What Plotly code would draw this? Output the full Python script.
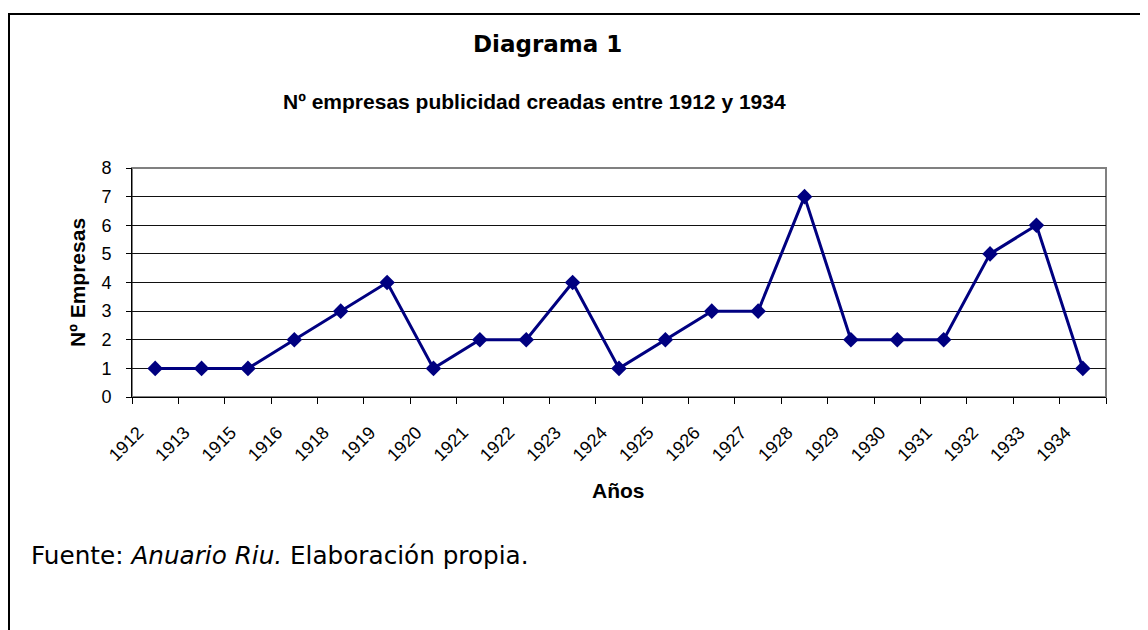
import plotly.graph_objects as go

years = ["1912", "1913", "1915", "1916", "1918", "1919", "1920", "1921", "1922", "1923",
         "1924", "1925", "1926", "1927", "1928", "1929", "1930", "1931", "1932", "1933", "1934"]
empresas = [1, 1, 1, 2, 3, 4, 1, 2, 2, 4, 1, 2, 3, 3, 7, 2, 2, 2, 5, 6, 1]
y_ticks = [0, 1, 2, 3, 4, 5, 6, 7, 8]

W, H = 1148, 630
OFF = 8  # page body margin
SX0, SX1, SY0, SY1 = 132, 1106, 168, 397
L, T = SX0 - OFF, SY0 - OFF
R, B = W - (SX1 - OFF), H - (SY1 - OFF)
PW, PH = W - L - R, H - T - B


def px(x):
    return (x - OFF - L) / PW


def py(y):
    return 1 - (y - OFF - T) / PH


ARIAL = "Liberation Sans, Arial, sans-serif"
VERD = "DejaVu Sans, Verdana, sans-serif"

fig = go.Figure()
fig.add_trace(go.Scatter(
    x=years, y=empresas, mode="lines+markers",
    line=dict(color="#000080", width=3),
    marker=dict(symbol="diamond", size=12, color="#000080"),
    showlegend=False, cliponaxis=False,
))

fig.update_layout(
    width=W, height=H,
    margin=dict(l=L, r=R, t=T, b=B, pad=0),
    paper_bgcolor="white", plot_bgcolor="white",
    font=dict(family=ARIAL, color="black", size=16),
    xaxis=dict(
        type="category", range=[-0.5, len(years) - 0.5],
        tickson="boundaries", ticks="outside", ticklen=6,
        tickcolor="black", tickwidth=1, showgrid=False, showline=True,
        linecolor="black", linewidth=1, tickangle=-45,
        ticklabelstandoff=17, ticklabelshift=-17,
        tickfont=dict(family=ARIAL, size=18, color="black"), zeroline=False,
    ),
    yaxis=dict(
        range=[0, 8], tickvals=y_ticks, ticks="outside", ticklen=5,
        tickcolor="black", tickwidth=1, showgrid=True, gridcolor="#111111",
        gridwidth=1, showline=True, linecolor="black", linewidth=1,
        ticklabelstandoff=11,
        tickfont=dict(family=ARIAL, size=18, color="black"), zeroline=False,
    ),
    shapes=[
        dict(type="rect", xref="paper", yref="paper", x0=0, y0=0, x1=1, y1=1,
             line=dict(color="#808080", width=2), layer="below"),
        dict(type="line", xref="paper", yref="paper", x0=px(8), x1=px(1160),
             y0=py(14), y1=py(14), line=dict(color="black", width=2)),
        dict(type="line", xref="paper", yref="paper", x0=px(9), x1=px(9),
             y0=py(14), y1=py(660), line=dict(color="black", width=2)),
    ],
    annotations=[
        dict(text="<b>Diagrama 1</b>", xref="paper", yref="paper", x=px(547), y=py(44),
             showarrow=False, xanchor="center", yanchor="middle",
             font=dict(family=VERD, size=23, color="black")),
        dict(text="<b>Nº empresas publicidad creadas entre 1912 y 1934</b>", xref="paper",
             yref="paper", x=px(534), y=py(101), showarrow=False, xanchor="center",
             yanchor="middle", font=dict(family=ARIAL, size=21, color="black")),
        dict(text="<b>Nº Empresas</b>", xref="paper", yref="paper", x=px(77), y=py(283),
             showarrow=False, xanchor="center", yanchor="middle", textangle=-90,
             font=dict(family=ARIAL, size=21, color="black")),
        dict(text="<b>Años</b>", xref="paper", yref="paper", x=px(618), y=py(490),
             showarrow=False, xanchor="center", yanchor="middle",
             font=dict(family=ARIAL, size=21, color="black")),
        dict(text="Fuente: <i>Anuario Riu.</i> Elaboración propia.", xref="paper",
             yref="paper", x=px(29), y=py(555), showarrow=False, xanchor="left",
             yanchor="middle", font=dict(family=VERD, size=24.7, color="black")),
    ],
)

fig.write_html("out.html")
